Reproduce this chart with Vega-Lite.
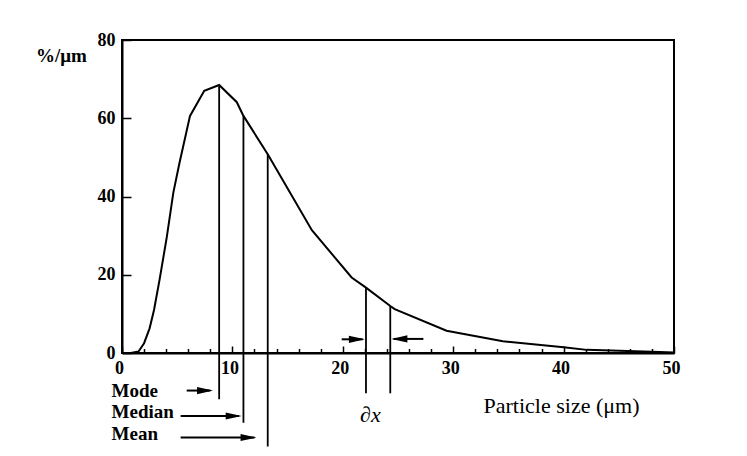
{
  "$schema": "https://vega.github.io/schema/vega-lite/v6.json",
  "width": 552,
  "height": 313,
  "autosize": {"type": "none"},
  "padding": {"left": 122, "top": 40, "right": 73, "bottom": 103},
  "background": "white",
  "config": {"view": {"stroke": "black", "strokeWidth": 2}, "font": "Liberation Serif"},
  "resolve": {"axis": {"x": "independent"}},
  "datasets": {
    "curve": [
      {"x": 0.8, "y": 0}, {"x": 1.5, "y": 0.4}, {"x": 2.0, "y": 2.5}, {"x": 2.5, "y": 6.3},
      {"x": 2.9, "y": 11.0}, {"x": 3.4, "y": 18.7}, {"x": 4.05, "y": 29.5}, {"x": 4.65, "y": 41.0},
      {"x": 5.2, "y": 48.5}, {"x": 6.16, "y": 60.6}, {"x": 7.45, "y": 67.0}, {"x": 8.8, "y": 68.5},
      {"x": 10.4, "y": 64.1}, {"x": 11.0, "y": 60.6}, {"x": 13.2, "y": 50.8}, {"x": 17.2, "y": 31.4},
      {"x": 20.8, "y": 19.3}, {"x": 22.1, "y": 16.7}, {"x": 24.3, "y": 12.0}, {"x": 24.7, "y": 11.2},
      {"x": 29.4, "y": 5.7}, {"x": 34.5, "y": 3.0}, {"x": 40.0, "y": 1.5}, {"x": 42.1, "y": 0.8},
      {"x": 48.0, "y": 0.3}, {"x": 50.0, "y": 0.1}
    ],
    "vlines": [
      {"x": 8.8, "y": 68.5, "y2": -11.8},
      {"x": 11.0, "y": 60.6, "y2": -17.8},
      {"x": 13.2, "y": 50.8, "y2": -23.9},
      {"x": 22.1, "y": 16.7, "y2": -10.3},
      {"x": 24.3, "y": 12.0, "y2": -10.3}
    ],
    "shafts": [
      {"x": 5.86, "x2": 8.0, "y": -9.6},
      {"x": 5.31, "x2": 10.6, "y": -16.1},
      {"x": 5.31, "x2": 12.0, "y": -21.6},
      {"x": 19.9, "x2": 21.8, "y": 3.5},
      {"x": 27.3, "x2": 24.6, "y": 3.6}
    ],
    "heads": [
      {"x": 8.25, "y": -9.6, "dir": "right"},
      {"x": 10.84, "y": -16.1, "dir": "right"},
      {"x": 12.19, "y": -21.6, "dir": "right"},
      {"x": 22.0, "y": 3.5, "dir": "right"},
      {"x": 24.4, "y": 3.6, "dir": "left"}
    ],
    "labels": [
      {"x": -0.95, "y": -11.2, "t": "Mode"},
      {"x": -0.95, "y": -16.6, "t": "Median"},
      {"x": -0.95, "y": -22.2, "t": "Mean"}
    ],
    "dx": [{"x": 22.5, "y": -17.6, "t": "∂x"}]
  },
  "layer": [
    {
      "data": {"name": "curve"},
      "mark": {"type": "line", "color": "black", "strokeWidth": 2},
      "encoding": {
        "x": {
          "field": "x", "type": "quantitative",
          "scale": {"domain": [0, 50], "nice": false, "zero": false},
          "axis": {
            "orient": "bottom",
            "values": [0, 10, 20, 30, 40, 50],
            "grid": false,
            "tickSize": -7, "tickColor": "black", "tickWidth": 1.5,
            "domainColor": "black", "domainWidth": 2,
            "labelFont": "Liberation Serif", "labelFontWeight": "bold", "labelFontSize": 18,
            "labelColor": "black", "labelPadding": 13, "labelOffset": -3,
            "labelOverlap": false, "labelFlush": false,
            "title": "Particle size (μm)",
            "titleFont": "Liberation Serif", "titleFontWeight": "normal", "titleFontSize": 22,
            "titleColor": "black", "titleX": 439, "titleY": 52,
            "titleAlign": "center", "titleBaseline": "middle"
          }
        },
        "y": {
          "field": "y", "type": "quantitative",
          "scale": {"domain": [0, 80], "nice": false},
          "axis": {
            "values": [0, 20, 40, 60, 80],
            "grid": false,
            "tickSize": -9, "tickColor": "black", "tickWidth": 1.5,
            "domainColor": "black", "domainWidth": 2,
            "labelFont": "Liberation Serif", "labelFontWeight": "bold", "labelFontSize": 18,
            "labelColor": "black", "labelPadding": 16,
            "labelOverlap": false, "labelFlush": false,
            "title": "%/μm",
            "titleFont": "Liberation Serif", "titleFontWeight": "bold", "titleFontSize": 19,
            "titleColor": "black", "titleAngle": 0, "titleX": -61, "titleY": 15,
            "titleAlign": "center", "titleBaseline": "middle"
          }
        }
      }
    },
    {
      "data": {"name": "vlines"},
      "mark": {"type": "rule", "color": "black", "strokeWidth": 1.8},
      "encoding": {
        "x": {
          "field": "x", "type": "quantitative",
          "axis": {
            "orient": "bottom",
            "values": [2, 4, 6, 8, 12, 14, 16, 18, 22, 24, 26, 28, 32, 34, 36, 38, 42, 44, 46, 48],
            "grid": false, "labels": false, "domain": false, "title": null,
            "tickSize": -4.5, "tickColor": "black", "tickWidth": 1.5
          }
        },
        "y": {"field": "y", "type": "quantitative"},
        "y2": {"field": "y2"}
      }
    },
    {
      "data": {"name": "shafts"},
      "mark": {"type": "rule", "color": "black", "strokeWidth": 2},
      "encoding": {
        "x": {"field": "x", "type": "quantitative", "axis": null},
        "x2": {"field": "x2"},
        "y": {"field": "y", "type": "quantitative"}
      }
    },
    {
      "data": {"name": "heads"},
      "mark": {"type": "point", "filled": true, "color": "black", "opacity": 1, "strokeWidth": 0},
      "encoding": {
        "x": {"field": "x", "type": "quantitative", "axis": null},
        "y": {"field": "y", "type": "quantitative"},
        "shape": {
          "field": "dir", "type": "nominal",
          "scale": {"domain": ["right", "left"], "range": ["M0,0L-2,-0.45L-2,0.45Z", "M0,0L2,-0.45L2,0.45Z"]},
          "legend": null
        },
        "size": {"value": 256}
      }
    },
    {
      "data": {"name": "labels"},
      "mark": {"type": "text", "align": "left", "baseline": "alphabetic", "font": "Liberation Serif", "fontWeight": "bold", "fontSize": 19, "color": "black"},
      "encoding": {
        "x": {"field": "x", "type": "quantitative", "axis": null},
        "y": {"field": "y", "type": "quantitative"},
        "text": {"field": "t"}
      }
    },
    {
      "data": {"name": "dx"},
      "mark": {"type": "text", "align": "center", "baseline": "alphabetic", "font": "Liberation Serif", "fontStyle": "italic", "fontSize": 22, "color": "black"},
      "encoding": {
        "x": {"field": "x", "type": "quantitative", "axis": null},
        "y": {"field": "y", "type": "quantitative"},
        "text": {"field": "t"}
      }
    }
  ]
}
